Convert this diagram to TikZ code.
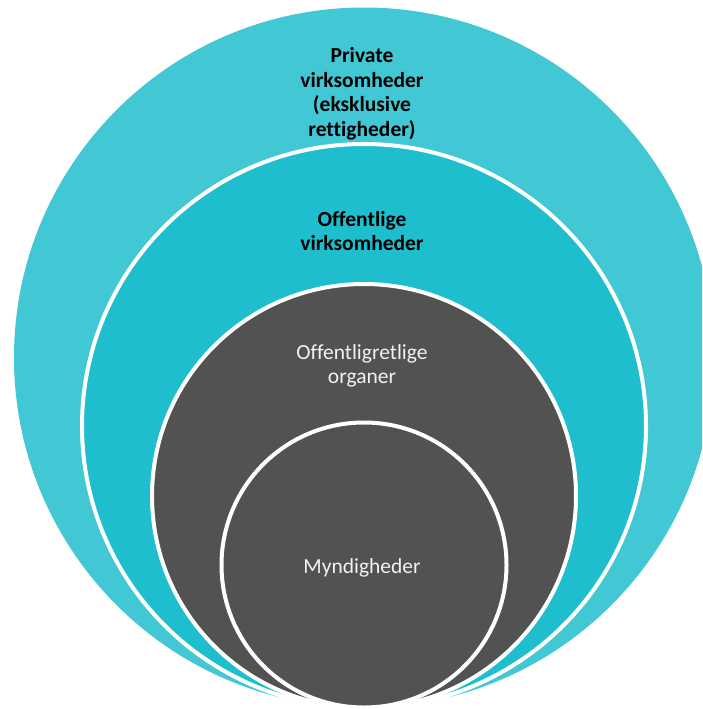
\documentclass[tikz,border=0pt]{standalone}
\usepackage{fontspec}
\setmainfont[Ligatures={NoCommon}]{Carlito}
\definecolor{outerc}{HTML}{42C7D4}
\definecolor{midc}{HTML}{1FBECE}
\definecolor{darkc}{HTML}{525252}
\definecolor{lighttext}{HTML}{F2F2F2}
\begin{document}
\begin{tikzpicture}[x=1pt,y=-1pt,
  ring/.style={circle, draw=white, line width=4pt, inner sep=0pt},
  darklabel/.style={align=center, font=\fontsize{21.5}{24.5}\selectfont\bfseries, text=black},
  lightlabel/.style={align=center, font=\fontsize{21.5}{24.5}\selectfont, text=lighttext}]
\useasboundingbox (0,0) rectangle (702,709);
\clip (0,0) rectangle (702,709);
\fill[white] (0,0) rectangle (702,709);
\node[circle, fill=outerc, minimum size=700pt, inner sep=0pt] (c1) at (364,357.5) {};
\node[ring, fill=midc, minimum size=564pt] (c2) at (364,426) {};
\node[ring, fill=darkc, minimum size=424pt] (c3) at (364,496) {};
\node[ring, fill=darkc, minimum size=285pt] (c4) at (364,565) {};
\node[darklabel] (t1) at (362,94) {Private\\virksomheder\\(eksklusive\\rettigheder)};
\node[darklabel] (t2) at (362,231) {Offentlige\\virksomheder};
\node[lightlabel] (t3) at (362,366) {Offentligretlige\\organer};
\node[lightlabel] (t4) at (362,568) {Myndigheder};
\end{tikzpicture}
\end{document}
